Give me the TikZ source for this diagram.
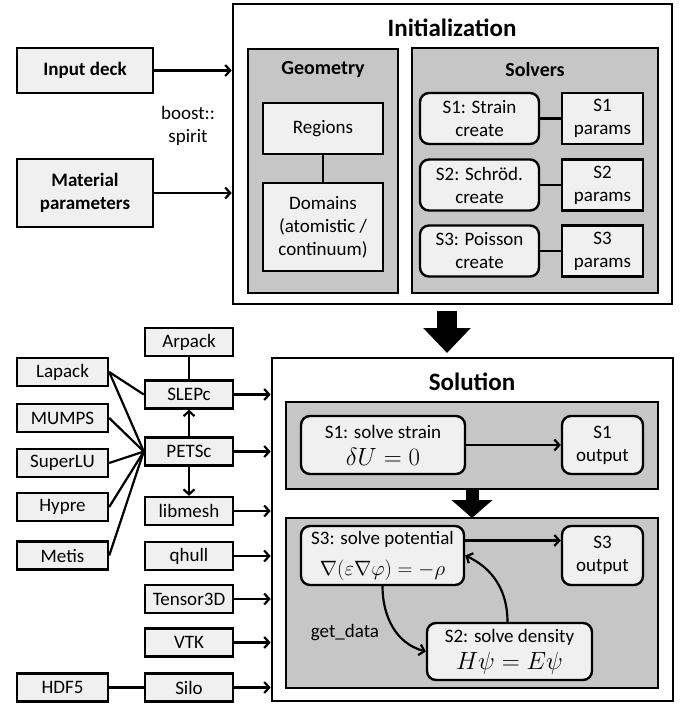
\documentclass[tikz,border=0pt]{standalone}
\usepackage{fontspec}
\setmainfont{Carlito}
\usetikzlibrary{arrows.meta}
\definecolor{boxfill}{HTML}{F0F0F0}
\definecolor{groupfill}{HTML}{C6C6C6}
\begin{document}
\begin{tikzpicture}[x=1pt,y=1pt,>={Straight Barb[length=5pt,width=11pt]},
  every node/.style={font=\fontsize{19}{23}\selectfont,align=center,inner sep=0pt},
  outerbox/.style={draw,line width=2.6pt,fill=white},
  groupbox/.style={draw,line width=2.4pt,fill=groupfill},
  plainbox/.style={draw,line width=2.4pt,fill=boxfill},
  roundbox/.style={plainbox,rounded corners=9pt},
  libbox/.style={plainbox,minimum height=28pt},
  titletext/.style={font=\fontsize{25}{28}\selectfont\bfseries},
  grouptitle/.style={font=\fontsize{20}{24}\selectfont\bfseries},
  link/.style={line width=2.2pt},
  fat/.style={line width=#1,draw=black}]
\useasboundingbox (0,0) rectangle (681,-704);

% inputs
\node[plainbox,minimum width=136pt,minimum height=45pt,font=\fontsize{19}{23}\selectfont\bfseries] (deck) at (85,-70.5) {Input deck};
\node[plainbox,minimum width=136pt,minimum height=68pt,font=\fontsize{19}{23}\selectfont\bfseries] (material) at (85,-193) {Material\\parameters};
\node (spirit) at (188,-126) {boost::\\spirit};

% initialization
\node[outerbox,minimum width=439pt,minimum height=300pt] (init) at (452.5,-154) {};
\node[titletext] (inittitle) at (452,-28) {Initialization};
\node[groupbox,minimum width=150pt,minimum height=244pt] (geom) at (323,-171) {};
\node[grouptitle] (geomtitle) at (323,-70) {Geometry};
\node[groupbox,minimum width=246pt,minimum height=245pt] (solvers) at (535,-170.5) {};
\node[grouptitle] (solvtitle) at (535,-70) {Solvers};
\node[plainbox,minimum width=120pt,minimum height=51pt] (regions) at (323,-128.5) {Regions};
\node[plainbox,minimum width=120pt,minimum height=88pt] (domains) at (323,-227) {Domains\\(atomistic /\\continuum)};
\node[roundbox,minimum width=119pt,minimum height=51pt] (s1create) at (479.5,-118.5) {S1: Strain\\create};
\node[plainbox,minimum width=81pt,minimum height=51pt] (s1params) at (602.5,-118.5) {S1\\params};
\node[roundbox,minimum width=119pt,minimum height=51pt] (s2create) at (479.5,-185) {S2: Schröd.\\create};
\node[plainbox,minimum width=81pt,minimum height=51pt] (s2params) at (602.5,-185) {S2\\params};
\node[roundbox,minimum width=119pt,minimum height=51pt] (s3create) at (479.5,-251) {S3: Poisson\\create};
\node[plainbox,minimum width=81pt,minimum height=51pt] (s3params) at (602.5,-251) {S3\\params};
\draw[link] (regions) -- (domains);
\draw[link] (s1create) -- (s1params);
\draw[link] (s2create) -- (s2params);
\draw[link] (s3create) -- (s3params);
\draw[link,->] (deck) -- (deck -| init.west);
\draw[link,->] (material) -- (material -| init.west);

% solution
\node[outerbox,minimum width=401pt,minimum height=343pt] (solution) at (472.5,-529.5) {};
\node[titletext] (soltitle) at (472,-382) {Solution};
\node[groupbox,minimum width=372pt,minimum height=87pt] (s1grp) at (472,-445.5) {};
\node[groupbox,minimum width=372pt,minimum height=170pt] (s23grp) at (472,-603) {};
\node[roundbox,minimum width=164pt,minimum height=58pt] (s1solve) at (383,-445) {S1: solve strain\\[4pt]{\fontsize{23}{26}\selectfont$\delta U=0$}};
\node[roundbox,minimum width=81pt,minimum height=58pt] (s1out) at (602.5,-445) {S1\\output};
\node[roundbox,minimum width=163pt,minimum height=59pt] (s3solve) at (382.5,-555.5) {S3: solve potential\\[8pt]{\fontsize{22}{25}\selectfont$\nabla(\varepsilon\nabla\varphi)=-\rho$}};
\node[roundbox,minimum width=81pt,minimum height=59pt] (s3out) at (602.5,-555.5) {S3\\output};
\node[roundbox,minimum width=165pt,minimum height=57pt] (s2solve) at (509.5,-651.5) {S2: solve density\\[4pt]{\fontsize{23}{26}\selectfont$H\psi=E\psi$}};
\node (getdata) at (345,-633) {get\_data};
\draw[link,->] (s1solve) -- (s1out);
\draw[link,->] ([yshift=15pt]s3solve.east) -- ([yshift=15pt]s3out.west);
\draw[link,->] (s3solve.south) to[out=-90,in=165] (s2solve.west);
\draw[link,->] ([xshift=-2pt]s2solve.north) to[out=90,in=-25] (s3solve.east);

% stage arrows
\coordinate (bigtop) at (447,-311);
\coordinate (bigtip) at (447,-353);
\draw[fat=20pt,-{Triangle[length=25pt,width=46pt]}] (bigtop) -- (bigtip);
\coordinate (smalltop) at (472,-488);
\coordinate (smalltip) at (472,-518);
\draw[fat=13pt,-{Triangle[length=18pt,width=40pt]}] (smalltop) -- (smalltip);

% libraries
\node[libbox,minimum width=91pt] (lapack) at (62.5,-372) {Lapack};
\node[libbox,minimum width=91pt] (mumps) at (62.5,-418) {MUMPS};
\node[libbox,minimum width=91pt] (superlu) at (62.5,-463) {SuperLU};
\node[libbox,minimum width=91pt] (hypre) at (62.5,-507) {Hypre};
\node[libbox,minimum width=91pt] (metis) at (62.5,-555.5) {Metis};
\node[libbox,minimum width=91pt] (hdf) at (62.5,-687.5) {HDF5};
\node[libbox,minimum width=88pt] (arpack) at (189,-342) {Arpack};
\node[libbox,minimum width=88pt] (slepc) at (189,-394.5) {SLEPc};
\node[libbox,minimum width=88pt] (petsc) at (189,-451.5) {PETSc};
\node[libbox,minimum width=88pt] (libmesh) at (189,-511) {libmesh};
\node[libbox,minimum width=88pt] (qhull) at (189,-556) {qhull};
\node[libbox,minimum width=88pt] (tensor) at (189,-599) {Tensor3D};
\node[libbox,minimum width=88pt] (vtk) at (189,-642.5) {VTK};
\node[libbox,minimum width=88pt] (silo) at (189,-687.5) {Silo};
\draw[link] (arpack) -- (slepc);
\draw[link,->] (petsc) -- (slepc);
\draw[link,->] (petsc) -- (libmesh);
\draw[link] (hdf) -- (silo);
\draw[link] (lapack.east) -- (slepc.west);
\draw[link] (lapack.east) -- (petsc.west);
\draw[link] (mumps.east) -- (petsc.west);
\draw[link] (superlu.east) -- (petsc.west);
\draw[link] (hypre.east) -- (petsc.west);
\draw[link] (metis.east) -- (petsc.west);
\draw[link,->] (slepc) -- (slepc -| solution.west);
\draw[link,->] (petsc) -- (petsc -| solution.west);
\draw[link,->] (libmesh) -- (libmesh -| solution.west);
\draw[link,->] (qhull) -- (qhull -| solution.west);
\draw[link,->] (tensor) -- (tensor -| solution.west);
\draw[link,->] (vtk) -- (vtk -| solution.west);
\draw[link,->] (silo) -- (silo -| solution.west);
\end{tikzpicture}
\end{document}
